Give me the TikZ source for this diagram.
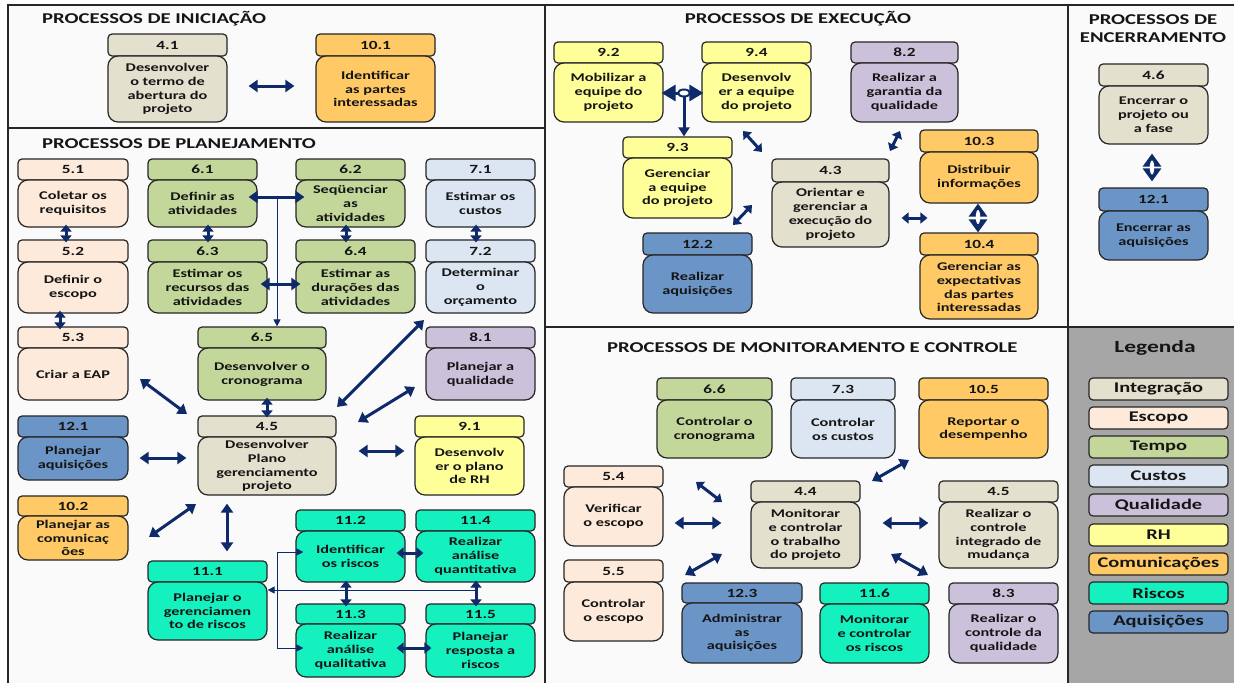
\documentclass[tikz,border=0pt]{standalone}
\usepackage{fontspec}
\usetikzlibrary{arrows.meta}
\newfontfamily\cfb{Carlito}[FakeStretch=1.38]

\definecolor{cInt}{HTML}{E4E0CE}
\definecolor{cEsc}{HTML}{FDEADA}
\definecolor{cTem}{HTML}{C4D79B}
\definecolor{cCus}{HTML}{DCE6F2}
\definecolor{cQua}{HTML}{CCC1DA}
\definecolor{cRH}{HTML}{FFFF99}
\definecolor{cCom}{HTML}{FFC965}
\definecolor{cRis}{HTML}{14F0BE}
\definecolor{cAqu}{HTML}{6B94C7}
\definecolor{arrowc}{HTML}{0E2A6A}
\definecolor{edge}{HTML}{262626}
\definecolor{ink}{HTML}{151515}
\definecolor{panelbg}{HTML}{FAFAFA}
\definecolor{legendbg}{HTML}{A6A6A6}

\newcommand\bodyfont{\cfb\bfseries\fontsize{11.8}{13.8}\selectfont}
\newcommand\hdrfont{\cfb\bfseries\fontsize{12.5}{14}\selectfont}
\newcommand\titlefont{\cfb\bfseries\fontsize{15}{18}\selectfont}
\newcommand\legfont{\cfb\bfseries\fontsize{14.8}{16}\selectfont}

% process block: name, colour, x1, x2, header top, header bottom, body bottom, number, text
\newcommand\proc[9]{%
  \node[hdrbox, fill=#2, minimum width={(#4)-(#3)}, minimum height={(#6)-(#5)}]
    (#1h) at ({((#3)+(#4))/2},{((#5)+(#6))/2}) {#8};
  \node[bodybox, fill=#2, minimum width={(#4)-(#3)}, minimum height={(#7)-(#6)}]
    (#1) at ({((#3)+(#4))/2},{((#6)+(#7))/2}) {};
  \node[bodytext] (#1t) at (#1.center) {#9};
}

\tikzset{
  hdrbox/.style={draw=edge, line width=1.2pt, rounded corners=4pt, inner sep=0pt, font=\hdrfont, text=ink},
  bodybox/.style={draw=edge, line width=1.2pt, rounded corners=10pt, inner sep=0pt},
  bodytext/.style={align=center, inner sep=0pt, font=\bodyfont, text=ink},
  dbl/.style={draw=arrowc, line width=3pt, {Triangle[length=9pt,width=12pt]}-{Triangle[length=9pt,width=12pt]}},
  dbls/.style={draw=arrowc, line width=3pt, {Triangle[length=7pt,width=11pt]}-{Triangle[length=7pt,width=11pt]}},
  sgl/.style={draw=arrowc, line width=3pt, -{Triangle[length=9pt,width=11pt]}},
  diam/.style={draw=arrowc, line width=3pt, {Triangle[length=13pt,width=18pt]}-{Triangle[length=13pt,width=18pt]}},
  thinln/.style={draw=arrowc, line width=0.9pt},
  thinarr/.style={thinln, -{Triangle[length=7pt,width=7pt]}},
  legbox/.style={draw=edge, line width=1.2pt, rounded corners=4pt, minimum width=139pt, minimum height=22pt, inner sep=0pt, font=\legfont, text=ink},
  ptitle/.style={font=\titlefont, text=ink, inner sep=0pt},
  frameln/.style={draw=edge, line width=1.8pt},
}

\begin{document}
\begin{tikzpicture}[x=1pt,y=-1pt]
\useasboundingbox (0,0) rectangle (1234,683);
\fill[white] (0,0) rectangle (1234,683);
\fill[panelbg] (8,5) rectangle (1234,683);
\fill[legendbg] (1068,327) rectangle (1234,683);
\draw[frameln] (8,683) -- (8,5) -- (1234,5);
\draw[frameln] (545,5) -- (545,683);
\draw[frameln] (1068,5) -- (1068,683);
\draw[frameln] (8,128) -- (545,128);
\draw[frameln] (545,327) -- (1234,327);

% ---------- initiation ----------
\node[ptitle, anchor=west] (tini) at (42,19) {PROCESSOS DE INICIAÇÃO};
\proc{i41}{cInt}{108}{227}{34}{56}{122}{4.1}{Desenvolver\\o termo de\\abertura do\\projeto}
\proc{i101}{cCom}{316}{435}{34}{56}{122}{10.1}{Identificar\\as partes\\interessadas}
\draw[dbl, shorten <=21pt, shorten >=21pt] (i41.east |- 0,86) -- (i101.west |- 0,86);

% ---------- planning ----------
\node[ptitle, anchor=west] (tpla) at (42,144) {PROCESSOS DE PLANEJAMENTO};
\proc{p51}{cEsc}{18}{128}{159}{180}{227}{5.1}{Coletar os\\requisitos}
\proc{p61}{cTem}{148}{257}{159}{180}{227}{6.1}{Definir as\\atividades}
\proc{p62}{cTem}{296}{405}{159}{180}{227}{6.2}{Seqüenciar\\as\\atividades}
\proc{p71}{cCus}{426}{535}{159}{180}{227}{7.1}{Estimar os\\custos}
\proc{p52}{cEsc}{18}{128}{240}{262}{313}{5.2}{Definir o\\escopo}
\proc{p63}{cTem}{148}{267}{240}{262}{313}{6.3}{Estimar os\\recursos das\\atividades}
\proc{p64}{cTem}{296}{415}{240}{262}{313}{6.4}{Estimar as\\durações das\\atividades}
\proc{p72}{cCus}{426}{535}{240}{262}{313}{7.2}{Determinar\\o\\orçamento}
\proc{p53}{cEsc}{18}{128}{327}{348}{400}{5.3}{Criar a EAP}
\proc{p65}{cTem}{198}{326}{327}{348}{400}{6.5}{Desenvolver o\\cronograma}
\proc{p81}{cQua}{426}{535}{327}{348}{400}{8.1}{Planejar a\\qualidade}
\proc{p121}{cAqu}{18}{128}{416}{437}{480}{12.1}{Planejar\\aquisições}
\proc{p45}{cInt}{198}{336}{416}{437}{495}{4.5}{Desenvolver\\Plano\\gerenciamento\\projeto}
\proc{p91}{cRH}{415}{524}{416}{437}{495}{9.1}{Desenvolv\\er o plano\\de RH}
\proc{p102}{cCom}{18}{128}{496}{516}{560}{10.2}{Planejar as\\comunicaç\\ões}
\proc{p111}{cRis}{148}{267}{561}{582}{640}{11.1}{Planejar o\\gerenciamen\\to de riscos}
\proc{p112}{cRis}{296}{405}{510}{531}{582}{11.2}{Identificar\\os riscos}
\proc{p114}{cRis}{416}{535}{510}{531}{582}{11.4}{Realizar\\análise\\quantitativa}
\proc{p113}{cRis}{296}{405}{604}{624}{677}{11.3}{Realizar\\análise\\qualitativa}
\proc{p115}{cRis}{426}{535}{604}{624}{677}{11.5}{Planejar\\resposta a\\riscos}

\draw[dbls, shorten <=-3pt, shorten >=-3pt] (p51.south -| 66,0) -- (p52h.north -| 66,0);
\draw[dbls, shorten <=-3pt, shorten >=-3pt] (p52.south -| 60,0) -- (p53h.north -| 60,0);
\draw[dbls, shorten <=-3pt, shorten >=-3pt] (p61.south -| 208,0) -- (p63h.north -| 208,0);
\draw[dbls, shorten <=-3pt, shorten >=-3pt] (p62.south -| 346,0) -- (p64h.north -| 346,0);
\draw[dbls, shorten <=-3pt, shorten >=-3pt] (p71.south -| 476,0) -- (p72h.north -| 476,0);
\draw[dbl, shorten <=-9pt, shorten >=-9pt] (p61.east |- 0,197) -- (p62.west |- 0,197);
\coordinate (j61) at (277,197);
\draw[thinarr] (j61) -- (p65h.north -| j61);
\draw[dbl, shorten <=-7pt, shorten >=-5pt] (p63.east |- 0,284) -- (p64.west |- 0,284);
\coordinate (d53a) at (140,379); \coordinate (d53b) at (187,414);
\draw[dbl] (d53a) -- (d53b);
\draw[dbls, shorten <=-3pt, shorten >=-2pt] (p65.south -| 267,0) -- (p45h.north -| 267,0);
\coordinate (d72a) at (424,320); \coordinate (d72b) at (337,407);
\draw[dbl] (d72a) -- (d72b);
\coordinate (d81a) at (415,387); \coordinate (d81b) at (358,422);
\draw[dbl] (d81a) -- (d81b);
\draw[dbl, shorten <=11pt, shorten >=11pt] (p121.east |- 0,458) -- (p45.west |- 0,458);
\draw[dbl, shorten <=22pt, shorten >=10pt] (p45.east |- 0,451) -- (p91.west |- 0,451);
\coordinate (d102a) at (149,537); \coordinate (d102b) at (196,504);
\draw[dbl] (d102a) -- (d102b);
\draw[dbl, shorten <=8pt, shorten >=9pt] (p45.south -| 227,0) -- (p111h.north -| 227,0);

% risk links
\coordinate (rt) at (277,552); \coordinate (rb) at (277,648); \coordinate (rm) at (476,590);
\draw[thinln] (rt) -- (rb);
\draw[thinarr, shorten >=-8pt] (rt) -- (p112.west |- rt);
\draw[thinarr, shorten >=-8pt] (rb) -- (p113.west |- rb);
\draw[thinarr] (rm) -- (p111.east |- rm);
\draw[dbls, shorten <=-9pt, shorten >=-8pt] (p112.east |- 0,553) -- (p114.west |- 0,553);
\draw[dbls, shorten <=-2pt, shorten >=-3pt] (p112.south -| 346,0) -- (p113h.north -| 346,0);
\draw[dbls, shorten <=-2pt, shorten >=-3pt] (p114.south -| 476,0) -- (p115h.north -| 476,0);
\draw[dbls, shorten <=-9pt, shorten >=-6pt] (p113.east |- 0,648) -- (p115.west |- 0,648);

% ---------- execution ----------
\node[ptitle] (texe) at (798,19) {PROCESSOS DE EXECUÇÃO};
\proc{e92}{cRH}{554}{663}{42}{63}{122}{9.2}{Mobilizar a\\equipe do\\projeto}
\proc{e94}{cRH}{702}{811}{42}{63}{122}{9.4}{Desenvolv\\er a equipe\\do projeto}
\proc{e82}{cQua}{851}{958}{42}{63}{122}{8.2}{Realizar a\\garantia da\\qualidade}
\proc{e93}{cRH}{623}{732}{137}{158}{218}{9.3}{Gerenciar\\a equipe\\do projeto}
\proc{e43}{cInt}{772}{889}{159}{182}{247}{4.3}{Orientar e\\gerenciar a\\execução do\\projeto}
\proc{e103}{cCom}{920}{1038}{130}{152}{203}{10.3}{Distribuir\\informações}
\proc{e104}{cCom}{920}{1038}{233}{255}{319}{10.4}{Gerenciar as\\expectativas\\das partes\\interessadas}
\proc{e122}{cAqu}{643}{752}{233}{255}{313}{12.2}{Realizar\\aquisições}

\coordinate (ej) at (684,93);
\draw[draw=arrowc, line width=3pt, {Triangle[length=14pt,width=16pt]}-{Triangle[length=14pt,width=16pt]}, shorten <=-2pt, shorten >=-2pt]
  (e92.east |- ej) -- (e94.west |- ej);
\draw[draw=arrowc, line width=2pt, fill=white] (ej) ellipse [x radius=6pt, y radius=3.5pt];
\draw[sgl] ([yshift=-4pt]ej) -- (e93h.north -| ej);
\coordinate (d94a) at (743,131); \coordinate (d94b) at (762,152);
\draw[dbls] (d94a) -- (d94b);
\coordinate (d82a) at (900,131); \coordinate (d82b) at (890,151);
\draw[dbls] (d82a) -- (d82b);
\coordinate (d93a) at (752,205); \coordinate (d93b) at (733,225);
\draw[dbls] (d93a) -- (d93b);
\draw[dbls, shorten <=12pt, shorten >=-8pt] (e43.east |- 0,218) -- (e103.west |- 0,218);
\draw[diam] (e103.south -| 978,0) -- (e104h.north -| 978,0);
\fill[white] (978,217) ellipse [x radius=2.2pt, y radius=7pt];

% ---------- closing ----------
\node[ptitle, align=center] (tenc) at (1153,29) {PROCESSOS DE\\ENCERRAMENTO};
\proc{c46}{cInt}{1099}{1208}{64}{86}{144}{4.6}{Encerrar o\\projeto ou\\a fase}
\proc{c121}{cAqu}{1099}{1208}{188}{211}{260}{12.1}{Encerrar as\\aquisições}
\draw[diam, shorten <=9pt, shorten >=6pt] (c46.south -| 1152,0) -- (c121h.north -| 1152,0);
\fill[white] (1152,167.5) ellipse [x radius=2.2pt, y radius=7pt];

% ---------- monitoring and control ----------
\node[ptitle, anchor=west] (tmon) at (607,348) {PROCESSOS DE MONITORAMENTO E CONTROLE};
\proc{m66}{cTem}{657}{772}{378}{400}{458}{6.6}{Controlar o\\cronograma}
\proc{m73}{cCus}{791}{895}{378}{400}{458}{7.3}{Controlar\\os custos}
\proc{m105}{cCom}{919}{1048}{378}{400}{458}{10.5}{Reportar o\\desempenho}
\proc{m54}{cEsc}{564}{663}{466}{487}{546}{5.4}{Verificar\\o escopo}
\proc{m44}{cInt}{751}{860}{481}{502}{568}{4.4}{Monitorar\\e controlar\\o trabalho\\do projeto}
\proc{m45}{cInt}{939}{1058}{481}{502}{568}{4.5}{Realizar o\\controle\\integrado de\\mudança}
\proc{m55}{cEsc}{564}{663}{560}{582}{641}{5.5}{Controlar\\o escopo}
\proc{m123}{cAqu}{682}{802}{583}{603}{663}{12.3}{Administrar\\as\\aquisições}
\proc{m116}{cRis}{820}{929}{583}{604}{663}{11.6}{Monitorar\\e controlar\\os riscos}
\proc{m83}{cQua}{949}{1058}{583}{604}{663}{8.3}{Realizar o\\controle da\\qualidade}

\coordinate (d105a) at (872,481); \coordinate (d105b) at (909,460);
\draw[dbl] (d105a) -- (d105b);
\coordinate (d54a) at (696,482); \coordinate (d54b) at (722,502);
\draw[dbls] (d54a) -- (d54b);
\draw[dbl, shorten <=11pt, shorten >=29pt] (m54.east |- 0,523) -- (m44.west |- 0,523);
\coordinate (d55a) at (722,554); \coordinate (d55b) at (685,575);
\draw[dbl] (d55a) -- (d55b);
\draw[dbl, shorten <=22pt, shorten >=10pt] (m44.east |- 0,523) -- (m45.west |- 0,523);
\coordinate (d116a) at (891,554); \coordinate (d116b) at (928,575);
\draw[dbl] (d116a) -- (d116b);

% ---------- legend ----------
\node[font=\cfb\bfseries\fontsize{17}{20}\selectfont, text=ink] (tleg) at (1155,348) {Legenda};
\node[legbox, fill=cInt] (lInt) at (1158.5,389) {Integração};
\node[legbox, fill=cEsc] (lEsc) at (1158.5,418) {Escopo};
\node[legbox, fill=cTem] (lTem) at (1158.5,447) {Tempo};
\node[legbox, fill=cCus] (lCus) at (1158.5,476) {Custos};
\node[legbox, fill=cQua] (lQua) at (1158.5,505) {Qualidade};
\node[legbox, fill=cRH]  (lRH)  at (1158.5,535) {RH};
\node[legbox, fill=cCom] (lCom) at (1158.5,564) {Comunicações};
\node[legbox, fill=cRis] (lRis) at (1158.5,593) {Riscos};
\node[legbox, fill=cAqu] (lAqu) at (1158.5,622) {Aquisições};
\end{tikzpicture}
\end{document}
